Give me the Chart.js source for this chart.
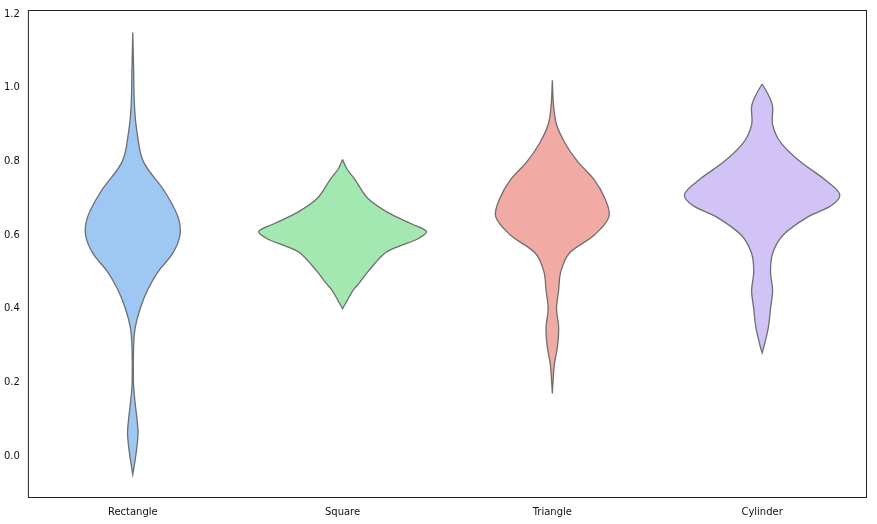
<!DOCTYPE html>
<html>
<head>
<meta charset="utf-8">
<script src="https://cdn.jsdelivr.net/npm/chart.js@4"></script>
<style>
  html, body { margin: 0; padding: 0; background: #fff; }
  #wrap { width: 877px; height: 524px; }
</style>
</head>
<body>
<div id="wrap"><canvas id="graph"></canvas></div>
<script>
var categories = ["Rectangle", "Square", "Triangle", "Cylinder"];
var colors = ["#9fc7f3", "#a2e8b0", "#f2aaa5", "#d2c3f7"];

// violin outlines: y levels (top to bottom) and half widths in category units
var rectY = [1.15, 1.05, 0.95, 0.88, 0.8, 0.72, 0.65, 0.6, 0.55, 0.5, 0.45, 0.4, 0.35, 0.3, 0.2, 0.15, 0.1, 0.06, 0.0, -0.05];
var rectW = [0, 0.004, 0.008, 0.02, 0.05, 0.15, 0.215, 0.225, 0.19, 0.12, 0.07, 0.035, 0.012, 0.004, 0.003, 0.01, 0.02, 0.025, 0.014, 0];
var squareY = [0.805, 0.78, 0.75, 0.7, 0.66, 0.63, 0.61, 0.59, 0.57, 0.55, 0.5, 0.47, 0.45, 0.42, 0.40];
var squareW = [0, 0.02, 0.06, 0.12, 0.22, 0.33, 0.40, 0.36, 0.27, 0.2, 0.12, 0.08, 0.05, 0.02, 0];
var triY = [1.02, 0.95, 0.9, 0.85, 0.8, 0.75, 0.7, 0.65, 0.6, 0.55, 0.5, 0.45, 0.4, 0.35, 0.3, 0.25, 0.2, 0.17];
var triW = [0, 0.006, 0.02, 0.06, 0.12, 0.2, 0.25, 0.27, 0.2, 0.08, 0.04, 0.03, 0.02, 0.03, 0.025, 0.01, 0.003, 0];
var cylY = [1.01, 0.98, 0.95, 0.9, 0.85, 0.8, 0.75, 0.71, 0.68, 0.65, 0.6, 0.55, 0.5, 0.45, 0.4, 0.35, 0.3, 0.28];
var cylW = [0, 0.03, 0.05, 0.05, 0.09, 0.18, 0.3, 0.37, 0.33, 0.22, 0.1, 0.05, 0.04, 0.05, 0.04, 0.03, 0.01, 0];

var q1 = [0.535, 0.535, 0.595, 0.655];
var q3 = [0.67, 0.625, 0.715, 0.735];
var medians = [0.62, 0.59, 0.65, 0.705];
var whiskLo = [0.435, 0.45, 0.43, 0.565];
var whiskHi = [0.85, 0.73, 0.825, 0.84];

var yTicks = [0.0, 0.2, 0.4, 0.6, 0.8, 1.0, 1.2];

var outlines = [[rectY, rectW], [squareY, squareW], [triY, triW], [cylY, cylW]];
var datasets = [];

outlines.forEach(function (o, i) {
    let ys = o[0], ws = o[1];
    let pts = [];
    for (let k = 0; k < ys.length; k++) pts.push({x: i + ws[k], y: ys[k]});
    for (let k = ys.length - 1; k >= 0; k--) pts.push({x: i - ws[k], y: ys[k]});
    datasets.push({
        data: pts, showLine: true, fill: "shape", tension: 0.35,
        backgroundColor: colors[i], borderColor: "#6e6e6e", borderWidth: 1.3, pointRadius: 0
    });
});

categories.forEach(function (c, i) {
    datasets.push({
        data: [{x: i, y: whiskLo[i]}, {x: i, y: whiskHi[i]}], showLine: true,
        borderColor: "#6e6e6e", borderWidth: 1.5, pointRadius: 0
    });
    datasets.push({
        data: [{x: i, y: q1[i]}, {x: i, y: q3[i]}], showLine: true,
        borderColor: "#6e6e6e", borderWidth: 6, pointRadius: 0
    });
    datasets.push({
        data: [{x: i, y: medians[i]}], showLine: false,
        pointRadius: 1.6, pointBackgroundColor: "#ffffff", pointBorderWidth: 0
    });
});

var frame = {
    id: "frame",
    afterDraw: function (chart) {
        let a = chart.chartArea, c = chart.ctx;
        c.save();
        c.strokeStyle = "#222";
        c.lineWidth = 1;
        c.strokeRect(a.left + 0.5, a.top + 0.5, a.right - a.left - 1, a.bottom - a.top - 1);
        c.restore();
    }
};

Chart.defaults.font.family = "DejaVu Sans";
Chart.defaults.font.size = 10;
Chart.defaults.color = "#111";

new Chart(document.getElementById("graph"), {
    type: "scatter",
    data: {datasets: datasets},
    plugins: [frame],
    options: {
        responsive: true,
        maintainAspectRatio: false,
        animation: false,
        layout: {padding: {top: 6, right: 10, bottom: 2, left: 0}},
        plugins: {legend: {display: false}, tooltip: {enabled: false}},
        scales: {
            x: {
                type: "linear", min: -0.5, max: 3.5,
                afterBuildTicks: function (axis) { axis.ticks = categories.map((c, i) => ({value: i})); },
                ticks: {callback: function (v) { return categories[v]; }, padding: 4},
                grid: {display: false, drawTicks: true, tickLength: 4},
                border: {display: false}
            },
            y: {
                min: -0.114, max: 1.211,
                afterBuildTicks: function (axis) { axis.ticks = yTicks.map(v => ({value: v})); },
                ticks: {callback: function (v) { return v.toFixed(1); }, padding: 4},
                grid: {display: false, drawTicks: true, tickLength: 4},
                border: {display: false}
            }
        }
    }
});
</script>
</body>
</html>
